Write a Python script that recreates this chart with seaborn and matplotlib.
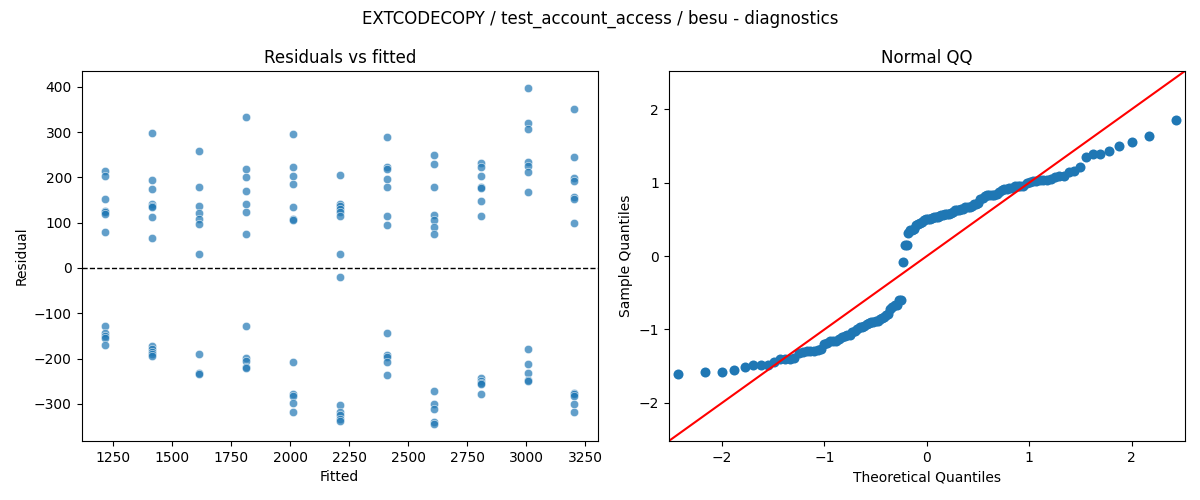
from statistics import NormalDist
import numpy as np
import pandas as pd
import seaborn as sns
import matplotlib
matplotlib.use('Agg')
import matplotlib.pyplot as plt

title = 'EXTCODECOPY / test_account_access / besu - diagnostics'

# fitted level of each group, residuals
fitted_levels = [1216, 1415, 1613, 1811, 2011, 2210, 2409, 2608, 2807, 3006, 3204]
resid_1216 = [215, 204, 152, 127, 123, 119, 79, -129, -144, -150, -154, -169]
resid_1415 = [298, 195, 175, 142, 138, 134, 112, 66, -172, -179, -185, -191, -194]
resid_1613 = [259, 178, 137, 121, 108, 97, 31, -191, -232, -235]
resid_1811 = [334, 219, 200, 171, 142, 123, 75, -129, -199, -205, -219, -222]
resid_2011 = [297, 222, 204, 186, 134, 109, 107, -208, -278, -283, -298, -318]
resid_2210 = [206, 142, 136, 130, 124, 115, 31, -19, -302, -318, -325, -333, -339]
resid_2409 = [290, 223, 219, 197, 179, 114, 94, -143, -192, -196, -208, -237]
resid_2608 = [250, 230, 178, 117, 106, 91, 75, -272, -300, -311, -340, -345]
resid_2807 = [233, 222, 204, 180, 177, 147, 114, -243, -249, -255, -257, -278]
resid_3006 = [398, 321, 307, 235, 225, 213, 167, -180, -213, -232, -248, -250]
resid_3204 = [351, 246, 199, 192, 156, 152, 99, -276, -279, -282, -300, -318]

groups = [resid_1216, resid_1415, resid_1613, resid_1811, resid_2011, resid_2210,
          resid_2409, resid_2608, resid_2807, resid_3006, resid_3204]

rows = []
for f, res in zip(fitted_levels, groups):
    for r in res:
        rows.append({'Fitted': f, 'Residual': r})
df = pd.DataFrame(rows)

# normal QQ of residuals scaled by the regression's residual std error
resid = np.sort(df['Residual'].to_numpy(dtype=float))
n = len(resid)
scale = np.sqrt(np.sum(resid ** 2) / (n - 2))
z = resid / scale
nd = NormalDist()
theo = np.array([nd.inv_cdf(i / (n + 1)) for i in range(1, n + 1)])
qq = pd.DataFrame({'Theoretical Quantiles': theo, 'Sample Quantiles': z})

fig, axes = plt.subplots(1, 2, figsize=(12, 5), dpi=100)
fig.suptitle(title, fontsize=12)

ax = axes[0]
sns.scatterplot(ax=ax, data=df, x='Fitted', y='Residual', alpha=0.7)
ax.axhline(0, color='black', linestyle='--', linewidth=1)
ax.set_title('Residuals vs fitted')

ax = axes[1]
sns.scatterplot(ax=ax, data=qq, x='Theoretical Quantiles', y='Sample Quantiles',
                s=52, color='#1f77b4', linewidth=0)
ax.axline((0, 0), slope=1, color='red', linewidth=1.5)
ax.set_xlim(-2.52, 2.52)
ax.set_ylim(-2.52, 2.52)
ax.set_xticks([-2, -1, 0, 1, 2])
ax.set_yticks([-2, -1, 0, 1, 2])
ax.set_title('Normal QQ')

plt.subplots_adjust(left=0.068, right=0.9875, top=0.858, bottom=0.118, wspace=0.1376)
plt.savefig('out.png', dpi=100)
